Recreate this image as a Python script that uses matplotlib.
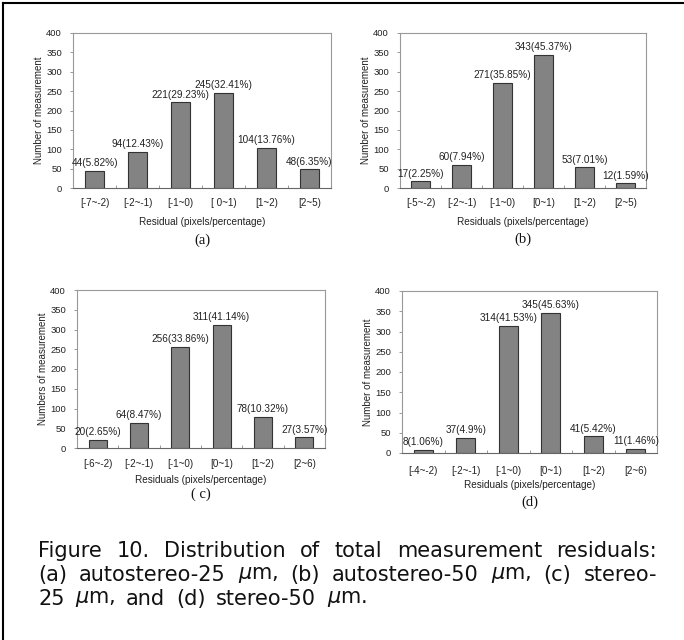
import matplotlib.pyplot as plt
import numpy as np
from matplotlib.lines import Line2D

plt.rcParams['font.family'] = ['Liberation Sans', 'DejaVu Sans']

W, H = 684, 640

cats_a = ["[-7~-2)", "[-2~-1)", "[-1~0)", "[ 0~1)", "[1~2)", "[2~5)"]
cats_b = ["[-5~-2)", "[-2~-1)", "[-1~0)", "[0~1)", "[1~2)", "[2~5)"]
cats_c = ["[-6~-2)", "[-2~-1)", "[-1~0)", "[0~1)", "[1~2)", "[2~6)"]
cats_d = ["[-4~-2)", "[-2~-1)", "[-1~0)", "[0~1)", "[1~2)", "[2~6)"]

counts_a = [44, 94, 221, 245, 104, 48]
counts_b = [17, 60, 271, 343, 53, 12]
counts_c = [20, 64, 256, 311, 78, 27]
counts_d = [8, 37, 314, 345, 41, 11]

pct_a = ["5.82", "12.43", "29.23", "32.41", "13.76", "6.35"]
pct_b = ["2.25", "7.94", "35.85", "45.37", "7.01", "1.59"]
pct_c = ["2.65", "8.47", "33.86", "41.14", "10.32", "3.57"]
pct_d = ["1.06", "4.9", "41.53", "45.63", "5.42", "1.46"]

panels = [
    # cats, counts, pct, ylabel, xlabel, tag, axes box px (l, r, t, b), tick pad, label pad, tag y px
    (cats_a, counts_a, pct_a, "Number of measurement", "Residual (pixels/percentage)", "(a)",
     (73, 331, 33, 188), 7.5, 6.5, 240),
    (cats_b, counts_b, pct_b, "Number of measurement", "Residuals (pixels/percentage)", "(b)",
     (400, 646, 33, 188), 7.5, 6.5, 239),
    (cats_c, counts_c, pct_c, "Numbers of measurement", "Residuals (pixels/percentage)", "( c)",
     (77, 325, 290, 448), 8, 4, 494),
    (cats_d, counts_d, pct_d, "Number of measurement", "Residuals (pixels/percentage)", "(d)",
     (402, 657, 291, 453), 9.5, 3, 502),
]

fig = plt.figure(figsize=(W / 100, H / 100), dpi=100)

for cats, counts, pct, ylab, xlab, tag, (l, r, t, b), tpad, lpad, tag_y in panels:
    ax = fig.add_axes([l / W, 1 - b / H, (r - l) / W, (b - t) / H])
    x = np.arange(len(cats))
    ax.bar(x, counts, width=0.44, color="#838383", edgecolor="#333333", linewidth=0.8)
    for xi, c, p in zip(x, counts, pct):
        ax.annotate(f"{c}({p}%)", (xi, c), xytext=(0, 2), textcoords="offset points",
                    ha="center", va="bottom", fontsize=7.2, color="#222222")
    ax.set_xlim(-0.5, len(cats) - 0.5)
    ax.set_ylim(0, 400)
    ax.set_yticks(range(0, 401, 50))
    ax.set_xticks(x)
    ax.set_xticklabels(cats)
    ax.set_xticks(np.arange(0.5, len(cats) - 0.5, 1), minor=True)
    ax.tick_params(axis="x", which="major", length=0, pad=tpad, labelsize=7.1, colors="#222222")
    ax.tick_params(axis="x", which="minor", length=2, direction="in", color="#888888")
    ax.tick_params(axis="y", length=2, width=0.6, color="#888888", labelsize=6.8,
                   labelcolor="#222222", pad=6)
    for s in ax.spines.values():
        s.set_color("#999999")
        s.set_linewidth(0.8)
    ax.spines["bottom"].set_color("#666666")
    ax.set_ylabel(ylab, fontsize=7, color="#222222", labelpad=1.5)
    ax.set_xlabel(xlab, fontsize=7.2, color="#222222", labelpad=lpad)
    fig.text((l + r) / 2 / W, 1 - tag_y / H, tag, ha="center", va="center",
             fontsize=10.5, family="Liberation Serif", color="#111111")

# border lines (top and left only)
fig.add_artist(Line2D([3 / W, 1], [1 - 3 / H, 1 - 3 / H], color="black", linewidth=1.5))
fig.add_artist(Line2D([3 / W, 3 / W], [0, 1 - 3 / H], color="black", linewidth=1.5))

# caption, justified
caption = [
    ("Figure 10. Distribution of total measurement residuals:", True),
    ("(a) autostereo-25 $\\mu$m, (b) autostereo-50 $\\mu$m, (c) stereo-", True),
    ("25 $\\mu$m, and (d) stereo-50 $\\mu$m.", False),
]
x0, x1 = 38, 657
ys = [551, 575, 599]
cap_size = 15
renderer = fig.canvas.get_renderer()
space = fig.text(0, 0, " ", fontsize=cap_size, family="DejaVu Sans")
space_w = space.get_window_extent(renderer).width
space.remove()
for (line, justify), y in zip(caption, ys):
    arts = [fig.text(0, 1 - y / H, w, fontsize=cap_size, family="DejaVu Sans",
                     ha="left", va="center", color="#111111") for w in line.split(" ")]
    widths = [a.get_window_extent(renderer).width for a in arts]
    gap = (x1 - x0 - sum(widths)) / (len(arts) - 1) if justify else space_w * 1.6
    cx = x0
    for a, w in zip(arts, widths):
        a.set_x(cx / W)
        cx += w + gap

fig.savefig("out.png", dpi=100)
